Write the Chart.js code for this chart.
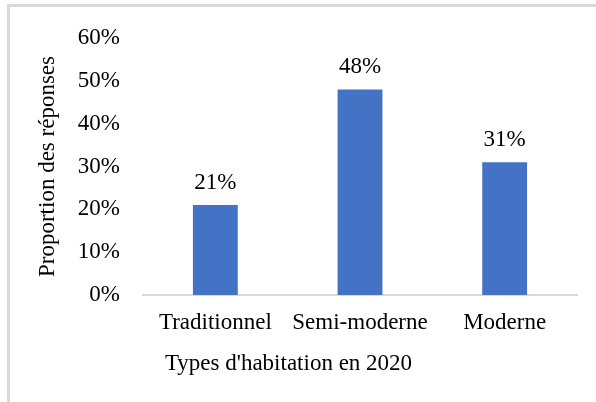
<!DOCTYPE html>
<html>
<head>
<meta charset="utf-8">
<script src="https://cdn.jsdelivr.net/npm/chart.js@4"></script>
<style>
  html, body { margin: 0; padding: 0; background: #fff; width: 596px; height: 402px; overflow: hidden; }
  #frame { position: absolute; left: 7px; top: 4px; width: 600px; height: 400px; border-top: 3px solid #d9d9d9; border-left: 3px solid #d9d9d9; }
  #wrap { position: absolute; left: 0; top: 0; width: 596px; height: 402px; }
</style>
</head>
<body>
<div id="frame"></div>
<div id="wrap"><canvas id="c" width="596" height="402"></canvas></div>
<script>
const categories = ["Traditionnel", "Semi-moderne", "Moderne"];
const proportions = [21, 48, 31];
const yTicks = [0, 10, 20, 30, 40, 50, 60];
const xTitle = "Types d'habitation en 2020";
const yTitle = "Proportion des réponses";

const FONT = "'Liberation Serif', 'Times New Roman', serif";
const FS = 23;

const valueLabels = {
  id: 'valueLabels',
  afterDatasetsDraw(chart) {
    const ctx = chart.ctx;
    const meta = chart.getDatasetMeta(0);
    ctx.save();
    ctx.font = FS + "px " + FONT;
    ctx.fillStyle = '#000';
    ctx.textAlign = 'center';
    ctx.textBaseline = 'alphabetic';
    meta.data.forEach((bar, i) => {
      ctx.fillText(proportions[i] + '%', bar.x, bar.y - 16);
    });
    ctx.restore();
  }
};

new Chart(document.getElementById('c'), {
  type: 'bar',
  data: {
    labels: categories,
    datasets: [{
      data: proportions,
      backgroundColor: '#4472C4',
      borderWidth: 0,
      barPercentage: 1,
      categoryPercentage: 0.31
    }]
  },
  options: {
    responsive: false,
    animation: false,
    devicePixelRatio: 1,
    layout: { padding: { top: 38, right: 19, bottom: 0, left: 0 } },
    plugins: {
      legend: { display: false },
      tooltip: { enabled: false },
      title: {
        display: true,
        position: 'bottom',
        text: xTitle,
        color: '#000',
        font: { family: FONT, size: FS, weight: 'normal', lineHeight: 1.2 },
        padding: { top: 0, bottom: 24 }
      }
    },
    scales: {
      x: {
        grid: { display: false, drawTicks: false },
        border: { display: true, color: '#d9d9d9', width: 2 },
        ticks: { color: '#000', font: { family: FONT, size: FS }, padding: 14, maxRotation: 0, autoSkip: false },
        afterFit(s) { s.height = 55.4; }
      },
      y: {
        min: 0, max: 60,
        grid: { display: false, drawTicks: false },
        border: { display: false },
        afterBuildTicks(s) { s.ticks = yTicks.map(v => ({ value: v })); },
        ticks: { color: '#000', font: { family: FONT, size: FS }, padding: 23, callback: v => v + '%' },
        title: {
          display: true,
          text: yTitle,
          color: '#000',
          font: { family: FONT, size: FS },
          padding: { top: 34, bottom: 0 }
        },
        afterFit(s) { s.width = 143; }
      }
    }
  },
  plugins: [valueLabels]
});
</script>
</body>
</html>
